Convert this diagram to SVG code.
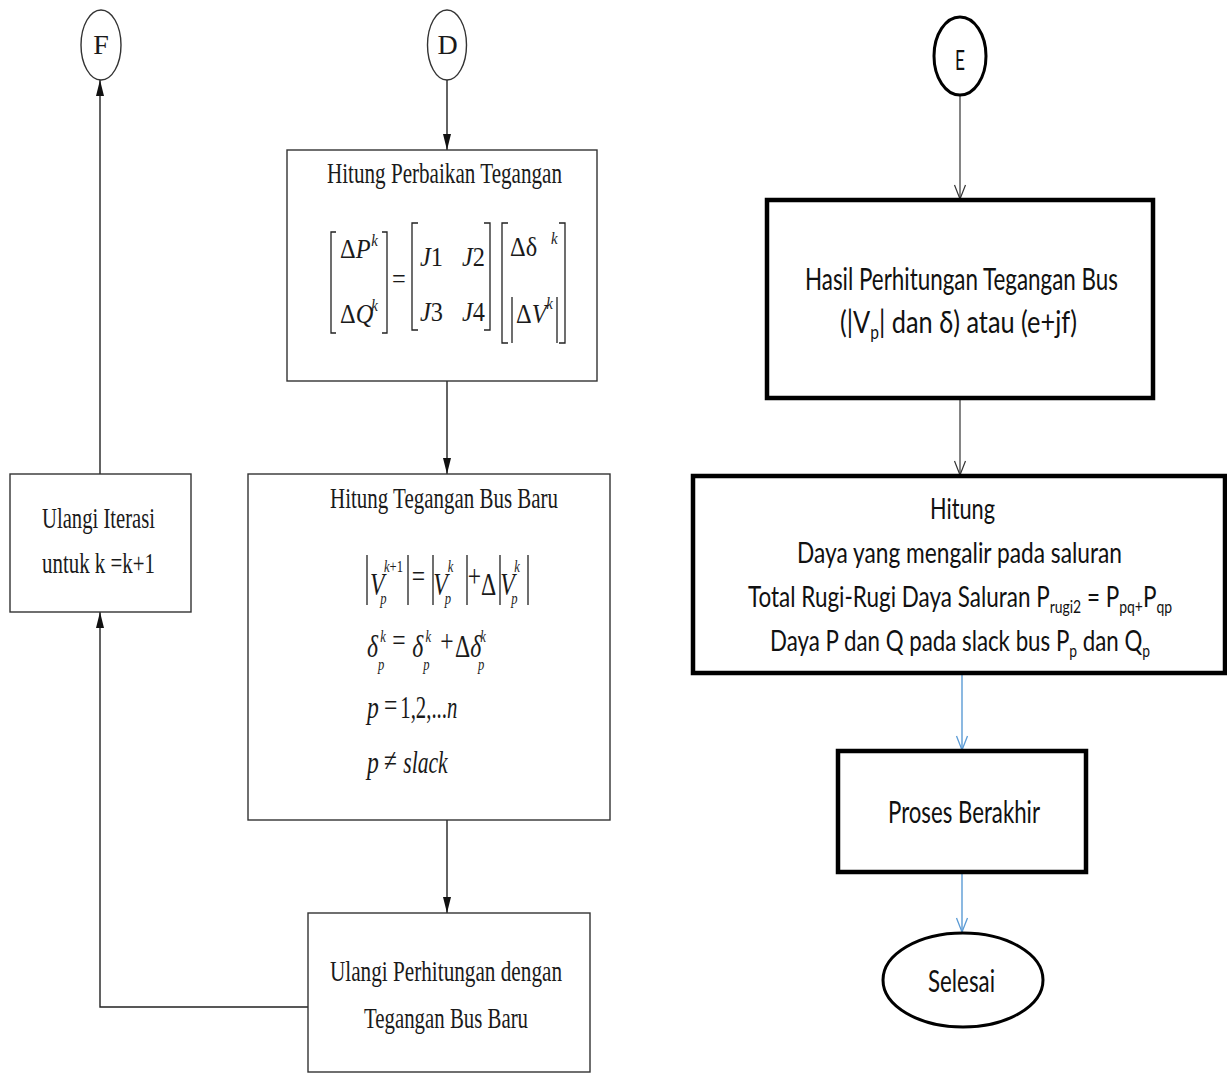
<svg xmlns="http://www.w3.org/2000/svg" width="1227" height="1075" viewBox="0 0 1227 1075">
  <style>
    .serif { font-family: "Liberation Serif", "Times New Roman", serif; font-size: 29px; fill: #1a1a1a; }
    .sans { font-family: Lato, "Open Sans", "Liberation Sans", sans-serif; fill: #111; }
    .m { font-family: "Liberation Serif", "Times New Roman", serif; font-style: italic; fill: #1a1a1a; }
    .up { font-style: normal; }
    .s { font-size: 17px; }
    .thin { fill: #fff; stroke: #333; stroke-width: 1.4; }
    .thick { fill: #fff; stroke: #000; stroke-width: 4.5; }
    .ring { fill: #fff; stroke: #000; stroke-width: 3; }
    .brk { fill: none; stroke: #222; stroke-width: 1.3; }
    .con { fill: none; stroke: #222; stroke-width: 1.4; marker-end: url(#headFill); }
    .con-dark { fill: none; stroke: #333; stroke-width: 1.2; marker-end: url(#headOpen); }
    .con-blue { fill: none; stroke: #5b9bd5; stroke-width: 1.4; marker-end: url(#headBlue); }
  </style>
  <defs>
    <marker id="headFill" markerUnits="userSpaceOnUse" markerWidth="16" markerHeight="8" viewBox="0 0 16 8" refX="16" refY="4" orient="auto">
      <path d="M0,0 L16,4 L0,8 z" fill="#111"/>
    </marker>
    <marker id="headOpen" markerUnits="userSpaceOnUse" markerWidth="16" markerHeight="14" viewBox="0 0 16 14" refX="15" refY="7" orient="auto">
      <path d="M1,1.5 L15,7 L1,12.5" fill="none" stroke="#333" stroke-width="1.2"/>
    </marker>
    <marker id="headBlue" markerUnits="userSpaceOnUse" markerWidth="16" markerHeight="14" viewBox="0 0 16 14" refX="15" refY="7" orient="auto">
      <path d="M1,1.5 L15,7 L1,12.5" fill="none" stroke="#5b9bd5" stroke-width="1.3"/>
    </marker>
  </defs>

  <rect width="1227" height="1075" fill="#fff"/>

  <!-- connectors -->
  <g id="connectors">
    <line class="con" x1="447" y1="80" x2="447" y2="150"/>
    <line class="con" x1="447" y1="381" x2="447" y2="474"/>
    <line class="con" x1="447" y1="820" x2="447" y2="913"/>
    <polyline class="con" points="308,1007 100,1007 100,612"/>
    <line class="con" x1="100" y1="474" x2="100" y2="80"/>
    <line class="con-dark" x1="960" y1="95" x2="960" y2="199"/>
    <line class="con-dark" x1="960" y1="400" x2="960" y2="475"/>
    <line class="con-blue" x1="962" y1="675" x2="962" y2="750"/>
    <line class="con-blue" x1="962" y1="874" x2="962" y2="932"/>
  </g>

  <!-- off-page connector F -->
  <g id="node-F">
    <ellipse class="thin" cx="101" cy="45" rx="20" ry="35"/>
    <text class="serif" x="101" y="54" text-anchor="middle" style="font-size:28px">F</text>
  </g>

  <!-- off-page connector D -->
  <g id="node-D">
    <ellipse class="thin" cx="447" cy="45" rx="19.5" ry="35"/>
    <text class="serif" x="447.5" y="54" text-anchor="middle" style="font-size:28px">D</text>
  </g>

  <!-- voltage correction: Jacobian system -->
  <g id="node-perbaikan">
    <rect class="thin" x="287" y="150" width="310" height="231"/>
    <text class="serif" x="327" y="183" textLength="235" lengthAdjust="spacingAndGlyphs">Hitung Perbaikan Tegangan</text>
    <path class="brk" d="M336,232 H331 V333 H336 M382,232 H387 V333 H382"/>
    <path class="brk" d="M418,223 H412 V330 H418 M484,223 H490 V330 H484"/>
    <path class="brk" d="M508,223 H502 V343 H508 M559,223 H565 V343 H559"/>
    <path class="brk" d="M512,297 V343 M557,297 V343"/>
    <g class="m" font-size="28" transform="translate(340 0) scale(0.87 1)">
      <text x="0" y="258"><tspan class="up">Δ</tspan>P</text>
      <text class="s" x="36" y="246">k</text>
      <text x="0" y="323"><tspan class="up">Δ</tspan>Q</text>
      <text class="s" x="36" y="311">k</text>
      <text class="up" x="59.8" y="288">=</text>
      <text x="92" y="266">J<tspan class="up">1</tspan></text>
      <text x="140.2" y="266">J<tspan class="up">2</tspan></text>
      <text x="92" y="321">J<tspan class="up">3</tspan></text>
      <text x="140.2" y="321">J<tspan class="up">4</tspan></text>
      <text class="up" x="195.4" y="256">Δδ</text>
      <text class="s" x="242.5" y="244">k</text>
      <text x="202.3" y="323"><tspan class="up">Δ</tspan>V</text>
      <text class="s" x="237" y="309">k</text>
    </g>
  </g>

  <!-- new bus voltage update -->
  <g id="node-tegangan-baru">
    <rect class="thin" x="248" y="474" width="362" height="346"/>
    <text class="serif" x="330" y="508" textLength="228" lengthAdjust="spacingAndGlyphs">Hitung Tegangan Bus Baru</text>
    <path class="brk" d="M367,555 V605 M408,555 V605 M433,555 V605 M467,555 V605 M500,555 V605 M528,555 V605"/>
    <g class="m" font-size="32" transform="translate(367 0) scale(0.74 1)">
      <text x="3.9" y="595">V</text>
      <text class="s" x="18" y="604">p</text>
      <text class="s" x="23" y="572">k<tspan class="up">+1</tspan></text>
      <text class="up" x="60.5" y="587">=</text>
      <text x="89.5" y="595">V</text>
      <text class="s" x="105" y="604">p</text>
      <text class="s" x="109" y="572">k</text>
      <text class="up" x="136" y="587">+</text>
      <text class="up" x="154" y="595">Δ</text>
      <text x="180" y="595">V</text>
      <text class="s" x="195" y="604">p</text>
      <text class="s" x="199" y="572">k</text>

      <text x="0" y="657">δ</text>
      <text class="s" x="15" y="670">p</text>
      <text class="s" x="18" y="642">k</text>
      <text class="up" x="34" y="651">=</text>
      <text x="61" y="657">δ</text>
      <text class="s" x="76" y="670">p</text>
      <text class="s" x="79" y="642">k</text>
      <text class="up" x="99" y="652">+</text>
      <text x="119" y="657"><tspan class="up">Δ</tspan>δ</text>
      <text class="s" x="150" y="670">p</text>
      <text class="s" x="153" y="642">k</text>

      <text x="0" y="718">p</text>
      <text class="up" x="23" y="716">=</text>
      <text x="45" y="718" textLength="77" lengthAdjust="spacingAndGlyphs"><tspan class="up">1,2,...</tspan>n</text>

      <text x="0" y="773">p</text>
      <text class="up" x="23" y="771">≠</text>
      <text x="49" y="773" textLength="60" lengthAdjust="spacingAndGlyphs">slack</text>
    </g>
  </g>

  <!-- repeat with new bus voltage -->
  <g id="node-ulangi-perhitungan">
    <rect class="thin" x="308" y="913" width="282" height="159"/>
    <text class="serif" x="330" y="981" textLength="232" lengthAdjust="spacingAndGlyphs">Ulangi Perhitungan dengan</text>
    <text class="serif" x="364" y="1028" textLength="164" lengthAdjust="spacingAndGlyphs">Tegangan Bus Baru</text>
  </g>

  <!-- next iteration -->
  <g id="node-ulangi-iterasi">
    <rect class="thin" x="10" y="474" width="181" height="138"/>
    <text class="serif" x="42" y="528" textLength="113" lengthAdjust="spacingAndGlyphs">Ulangi Iterasi</text>
    <text class="serif" x="42" y="573" textLength="113" lengthAdjust="spacingAndGlyphs">untuk k =k+1</text>
  </g>

  <!-- off-page connector E -->
  <g id="node-E">
    <ellipse class="ring" cx="960" cy="56" rx="26" ry="39"/>
    <text class="sans" x="955" y="70" font-size="26" textLength="10" lengthAdjust="spacingAndGlyphs">E</text>
  </g>

  <!-- resulting bus voltages -->
  <g id="node-hasil">
    <rect class="thick" x="767" y="200" width="386" height="198"/>
    <text class="sans" x="805" y="290" font-size="31" textLength="313" lengthAdjust="spacingAndGlyphs">Hasil Perhitungan Tegangan Bus</text>
    <text class="sans" x="840" y="333" font-size="31" textLength="237" lengthAdjust="spacingAndGlyphs">(|V<tspan font-size="19" dy="6">p</tspan><tspan dy="-6">| dan δ) atau (e+jf)</tspan></text>
  </g>

  <!-- line flows and losses -->
  <g id="node-hitung">
    <rect class="thick" x="693" y="476" width="532" height="197"/>
    <text class="sans" x="930" y="519" font-size="29" textLength="65" lengthAdjust="spacingAndGlyphs">Hitung</text>
    <text class="sans" x="797" y="563" font-size="29" textLength="325" lengthAdjust="spacingAndGlyphs">Daya yang mengalir pada saluran</text>
    <text class="sans" x="748" y="607" font-size="29" textLength="424" lengthAdjust="spacingAndGlyphs">Total Rugi-Rugi Daya Saluran P<tspan font-size="18" dy="6">rugi2</tspan><tspan dy="-6"> = P</tspan><tspan font-size="18" dy="6">pq+</tspan><tspan dy="-6">P</tspan><tspan font-size="18" dy="6">qp</tspan></text>
    <text class="sans" x="770" y="651" font-size="29" textLength="380" lengthAdjust="spacingAndGlyphs">Daya P dan Q pada slack bus P<tspan font-size="18" dy="6">p</tspan><tspan dy="-6"> dan Q</tspan><tspan font-size="18" dy="6">p</tspan></text>
  </g>

  <g id="node-proses">
    <rect class="thick" x="838" y="751" width="248" height="121"/>
    <text class="sans" x="888" y="823" font-size="31" textLength="152" lengthAdjust="spacingAndGlyphs">Proses Berakhir</text>
  </g>

  <g id="node-selesai">
    <ellipse class="ring" cx="963" cy="980" rx="80" ry="47"/>
    <text class="sans" x="928" y="992" font-size="31" textLength="67" lengthAdjust="spacingAndGlyphs">Selesai</text>
  </g>
</svg>
